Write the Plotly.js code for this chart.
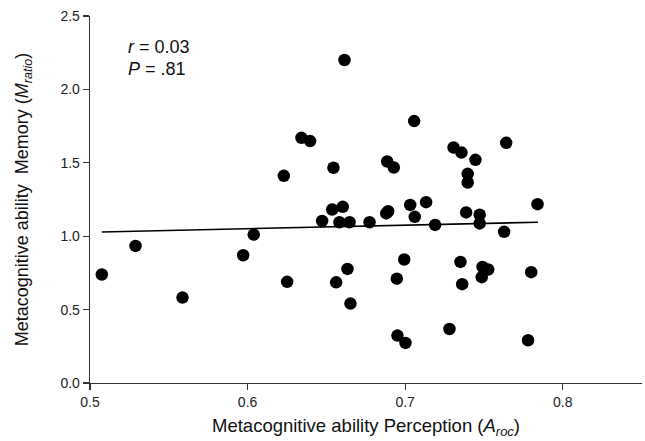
<!DOCTYPE html>
<html>
<head>
<meta charset="utf-8">
<script src="https://cdn.plot.ly/plotly-3.0.1.min.js"></script>
<style>html,body{margin:0;padding:0;background:#fff;}#chart{width:645px;height:441px;}</style>
</head>
<body>
<div id="chart"></div>
<script>
// Metacognitive ability: Perception (A_roc) vs Memory (M_ratio)
const perceptionAroc = [
  0.5075, 0.5289, 0.5587, 0.5972, 0.6039, 0.6251, 0.6230, 0.6342, 0.6397, 0.6615,
  0.7057, 0.6545, 0.6886, 0.6928, 0.7307, 0.7357, 0.7446, 0.7641, 0.7397, 0.7397,
  0.6537, 0.6604, 0.6473, 0.6583, 0.6647, 0.6774, 0.6880, 0.6892, 0.7032, 0.7133,
  0.7061, 0.7190, 0.7387, 0.7473, 0.7473, 0.7628, 0.7840, 0.6994, 0.6634, 0.6562,
  0.6947, 0.6653, 0.7351, 0.7362, 0.7491, 0.7527, 0.7486, 0.7800, 0.7281, 0.6951,
  0.7002, 0.7780
];
const memoryMratio = [
  0.739, 0.934, 0.582, 0.870, 1.011, 0.689, 1.411, 1.670, 1.648, 2.200,
  1.784, 1.466, 1.509, 1.468, 1.604, 1.570, 1.520, 1.636, 1.425, 1.366,
  1.182, 1.200, 1.104, 1.095, 1.095, 1.095, 1.155, 1.170, 1.213, 1.232,
  1.132, 1.077, 1.162, 1.146, 1.087, 1.030, 1.218, 0.841, 0.777, 0.686,
  0.711, 0.541, 0.825, 0.673, 0.791, 0.773, 0.721, 0.755, 0.368, 0.323,
  0.273, 0.291
];
// Fitted line endpoints
const fitX = [0.5075, 0.7843];
const fitY = [1.029, 1.095];

const xTicks = [0.5, 0.6, 0.7, 0.8];
const yTicks = [0.0, 0.5, 1.0, 1.5, 2.0, 2.5];
const statR = '<i>r</i> = 0.03';
const statP = '<i>P</i> = .81';

const FONT = 'Liberation Sans, Arial, Helvetica, sans-serif';

const traces = [
  {
    x: perceptionAroc, y: memoryMratio, type: 'scatter', mode: 'markers',
    marker: {color: '#000', size: 12.5, line: {width: 0}},
    hoverinfo: 'skip', showlegend: false
  },
  {
    x: fitX, y: fitY, type: 'scatter', mode: 'lines',
    line: {color: '#000', width: 1.6},
    hoverinfo: 'skip', showlegend: false
  }
];

const layout = {
  width: 645, height: 441,
  margin: {l: 90, r: 3, t: 16, b: 58},
  paper_bgcolor: '#fff', plot_bgcolor: '#fff',
  font: {family: FONT, color: '#1a1a1a', size: 14},
  xaxis: {
    range: [0.5, 0.8503], tickvals: xTicks, tickformat: '.1f',
    showline: true, linecolor: '#333', linewidth: 1.3,
    ticks: 'outside', ticklen: 6, tickwidth: 1.2, tickcolor: '#333',
    showgrid: false, zeroline: false,
    tickfont: {family: FONT, size: 14, color: '#222'},
    title: {text: 'Metacognitive ability Perception (<i>A<sub>roc</sub></i>)', font: {family: FONT, size: 18.5, color: '#111'}, standoff: 10}
  },
  yaxis: {
    range: [0, 2.5], tickvals: yTicks, tickformat: '.1f',
    showline: true, linecolor: '#333', linewidth: 1.3,
    ticks: 'outside', ticklen: 6, tickwidth: 1.2, tickcolor: '#333',
    showgrid: false, zeroline: false,
    tickfont: {family: FONT, size: 14, color: '#222'},
    title: {text: 'Metacognitive ability  Memory (<i>M<sub>ratio</sub></i>)', font: {family: FONT, size: 18, color: '#111'}, standoff: 27}
  },
  annotations: [
    {xref: 'paper', yref: 'paper', x: 0.066, y: 0.915, xanchor: 'left', yanchor: 'middle',
     text: statR, showarrow: false, font: {family: FONT, size: 18, color: '#111'}},
    {xref: 'paper', yref: 'paper', x: 0.066, y: 0.855, xanchor: 'left', yanchor: 'middle',
     text: statP, showarrow: false, font: {family: FONT, size: 18, color: '#111'}}
  ]
};

Plotly.newPlot('chart', traces, layout, {staticPlot: true, displayModeBar: false});
</script>
</body>
</html>
